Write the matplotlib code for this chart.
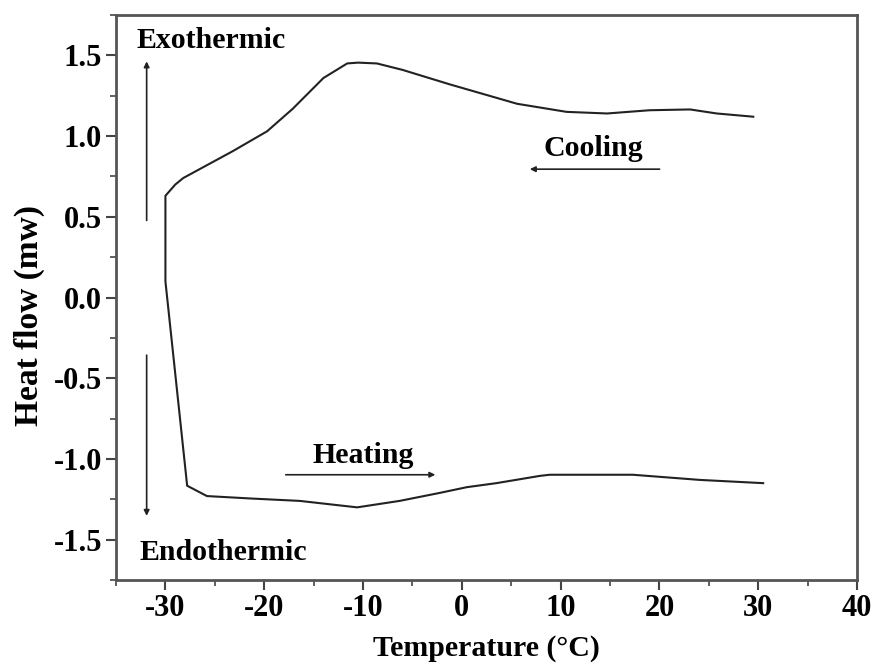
import matplotlib
matplotlib.use("Agg")
import matplotlib.pyplot as plt
from matplotlib.ticker import MultipleLocator, FuncFormatter

# Cooling branch (30 -> -30 °C), then vertical drop and heating branch (-30 -> 31 °C)
cool_T = [29.5, 25.8, 23.1, 19.0, 14.7, 10.6, 5.6, 3.9, -1.2, -6.0, -8.6, -10.5, -11.6,
          -14.0, -17.1, -19.7, -23.2, -28.2, -29.0, -30.0]
cool_H = [1.12, 1.14, 1.165, 1.16, 1.14, 1.15, 1.20, 1.23, 1.32, 1.41, 1.45, 1.455, 1.45,
          1.36, 1.17, 1.03, 0.906, 0.74, 0.70, 0.63]
drop_T = [-30.0, -30.0, -27.8]
drop_H = [0.63, 0.10, -1.166]
heat_T = [-27.8, -25.8, -21.4, -16.4, -10.6, -6.3, -2.2, 0.5, 3.5, 7.9, 8.9,
          17.3, 24.1, 30.5]
heat_H = [-1.166, -1.23, -1.245, -1.26, -1.30, -1.26, -1.21, -1.175, -1.15, -1.105,
          -1.098, -1.098, -1.13, -1.15]

x_ticks_fmt = lambda v, p: f"{v:.0f}".replace('\u2212', '-')
y_ticks_fmt = lambda v, p: f"{v:.1f}"

T = cool_T + drop_T[1:] + heat_T[1:]
H = cool_H + drop_H[1:] + heat_H[1:]

plt.rcParams['font.family'] = ['Liberation Serif', 'DejaVu Serif']
plt.rcParams['font.weight'] = 'bold'
plt.rcParams['axes.unicode_minus'] = False

fig = plt.figure(figsize=(8.73, 6.64), dpi=100)
ax = fig.add_axes([0.1329, 0.1265, 0.8488, 0.8509])

ax.plot(T, H, color='#222222', lw=1.5)

ax.set_xlim(-35, 40)
ax.set_ylim(-1.75, 1.75)
ax.xaxis.set_major_locator(MultipleLocator(10))
ax.xaxis.set_minor_locator(MultipleLocator(5))
ax.yaxis.set_major_locator(MultipleLocator(0.5))
ax.yaxis.set_minor_locator(MultipleLocator(0.25))
ax.xaxis.set_major_formatter(FuncFormatter(x_ticks_fmt))
ax.yaxis.set_major_formatter(FuncFormatter(y_ticks_fmt))
ax.tick_params(axis='both', which='major', direction='out', length=7, width=1.5,
               labelsize=22, color='#444444', pad=3)
ax.tick_params(axis='both', which='minor', direction='out', length=4, width=1.2,
               color='#444444')
for lab in ax.get_xticklabels() + ax.get_yticklabels():
    lab.set_fontweight('bold')
for s in ax.spines.values():
    s.set_linewidth(2)
    s.set_color('#555555')

ax.set_xlabel('Temperature (°C)', fontsize=21.5, fontweight='bold')
ax.set_ylabel('Heat flow (mw)', fontsize=24, fontweight='bold')
ax.xaxis.set_label_coords(0.5, -0.122)
ax.xaxis.label.set_va('center')
ax.yaxis.set_label_coords(-0.117, 0.469)
ax.yaxis.label.set_va('center')

arrow_kw = dict(arrowstyle='-|>', color='#222222', lw=1.2, mutation_scale=8)
ax.annotate('', xy=(-31.9, 1.48), xytext=(-31.9, 0.46), arrowprops=arrow_kw)
ax.annotate('', xy=(-31.9, -1.37), xytext=(-31.9, -0.34), arrowprops=arrow_kw)
ax.annotate('', xy=(6.6, 0.795), xytext=(20.3, 0.795), arrowprops=arrow_kw)
ax.annotate('', xy=(-2.4, -1.098), xytext=(-18.1, -1.098), arrowprops=arrow_kw)

ax.text(-32.9, 1.59, 'Exothermic', fontsize=21.5, fontweight='bold', va='center', ha='left')
ax.text(-32.6, -1.58, 'Endothermic', fontsize=21.5, fontweight='bold', va='center', ha='left')
ax.text(13.3, 0.92, 'Cooling', fontsize=21.5, fontweight='bold', va='center', ha='center')
ax.text(-10.0, -0.98, 'Heating', fontsize=21.5, fontweight='bold', va='center', ha='center')

fig.savefig('out.png', dpi=100)
